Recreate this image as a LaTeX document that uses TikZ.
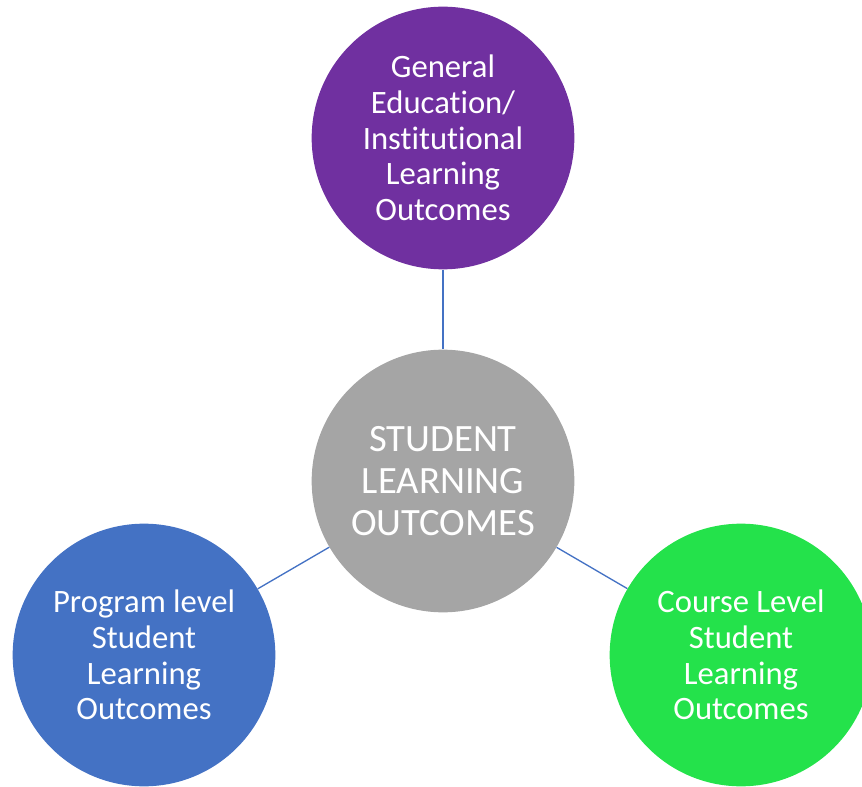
\documentclass[tikz,border=0pt]{standalone}
\usepackage{fontspec}
\setmainfont{Carlito}[Ligatures=NoCommon]
\usepackage{tikz}

\definecolor{gepurple}{HTML}{7030A0}
\definecolor{slogray}{HTML}{A5A5A5}
\definecolor{progblue}{HTML}{4472C4}
\definecolor{coursegreen}{HTML}{24E24B}

\begin{document}
\begin{tikzpicture}[x=0.75pt, y=-0.75pt,
    outcome/.style={circle, draw=none, minimum size=197pt, inner sep=0pt,
        align=center, text=white, font=\fontsize{24.5}{26.8}\selectfont},
    link/.style={draw=progblue, line width=1pt}]
                    \useasboundingbox (0,0) rectangle (862,787);
                    \clip (0,0) rectangle (862,787);
                    % Nodes
                    \node[outcome, fill=gepurple] (gen) at (443,138) {General\\Education/\\Institutional\\Learning\\Outcomes};
                    \node[outcome, fill=slogray, font=\fontsize{29}{31.5}\selectfont] (slo) at (443,481) {STUDENT\\LEARNING\\OUTCOMES};
                    \node[outcome, fill=progblue] (prog) at (144,655) {Program level\\Student\\Learning\\Outcomes};
                    \node[outcome, fill=coursegreen] (course) at (741,655) {Course Level\\Student\\Learning\\Outcomes};
                    % Edges
                    \draw[link] (gen) -- (slo);
                    \draw[link] (slo) -- (prog);
                    \draw[link] (slo) -- (course);
                \end{tikzpicture}
\end{document}
